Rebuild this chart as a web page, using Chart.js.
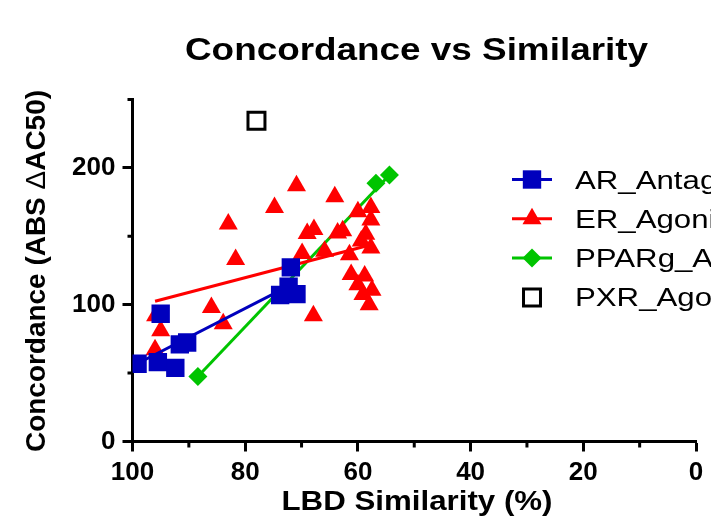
<!DOCTYPE html>
<html>
<head>
<meta charset="utf-8">
<script src="https://cdn.jsdelivr.net/npm/chart.js@4.4.1/dist/chart.umd.min.js"></script>
<style>
  html, body { margin: 0; padding: 0; background: #fff; }
  #wrap { width: 711px; height: 517px; position: relative; }
</style>
</head>
<body>
<div id="wrap"><canvas id="chart"></canvas></div>
<script>
// AR_Antagonist
const arX = [99.1, 95.5, 92.4, 91.6, 90.3, 95.0, 71.9, 72.3, 73.8, 70.9];
const arY = [56.8, 58.0, 53.8, 71.0, 72.4, 93.4, 127.3, 113.2, 107.1, 107.7];
// ER_Agonist
const erX = [96.0, 95.0, 95.9, 86.0, 83.9, 83.0, 81.7, 74.8, 70.9, 69.9, 69.0, 67.8, 67.9, 65.9, 64.1,
             63.6, 62.7, 61.5, 61.2, 60.0, 60.0, 59.4, 59.1, 58.8, 58.6, 58.0, 57.7, 57.7, 57.7, 57.5];
const erY = [67, 81, 92, 98, 86, 159, 133, 171, 187, 137.5, 152, 155, 92, 139, 179,
             152.5, 154, 136.5, 122, 168, 114.5, 146.5, 107.5, 121, 151.5, 100, 162, 171, 141.5, 110.5];
// PPARg_Agonist
const ppX = [88.4, 56.8, 54.4];
const ppY = [47.5, 188.7, 194.8];
// PXR_Agonist
const pxX = [78.0];
const pxY = [234.5];

// fitted lines, end points
const arFitX = [99.1, 70.9];
const arFitY = [57.0, 116.5];
const erFitX = [96.0, 57.5];
const erFitY = [102.5, 144.0];
const ppFitX = [88.4, 54.4];
const ppFitY = [47.5, 194.8];

const seriesNames = ['AR_Antagonist', 'ER_Agonist', 'PPARg_Agonist', 'PXR_Agonist'];
const xTickLabels = [100, 80, 60, 40, 20, 0];
const yTickLabels = [0, 100, 200];

const BLUE = '#0000bd';
const RED = '#ff0000';
const GREEN = '#00c400';
const FONT = '"Liberation Sans", Arial, sans-serif';

const pts = (xs, ys) => xs.map((x, i) => ({ x, y: ys[i] }));

const markers = [
    { pointStyle: 'rect', radius: 13, color: BLUE, line: true },
    { pointStyle: 'triangle', radius: 11, color: RED, line: true },
    { pointStyle: 'rectRot', radius: 9.5, color: GREEN, line: true },
    { pointStyle: 'rect', radius: 12, color: '#000', line: false, hollow: true }
];

function pointSet(label, xs, ys, m, order) {
    return {
        label,
        data: pts(xs, ys),
        pointStyle: m.pointStyle,
        pointRadius: m.radius,
        pointBackgroundColor: m.hollow ? '#fff' : m.color,
        pointBorderColor: m.color,
        pointBorderWidth: m.hollow ? 3 : 0,
        showLine: false,
        order
    };
}

function fitSet(xs, ys, color, order) {
    return {
        label: 'fit',
        data: pts(xs, ys),
        showLine: true,
        borderColor: color,
        borderWidth: 3,
        pointRadius: 0,
        order
    };
}

// stretched text, drawn in pieces [text, font] (the figure's lettering is wider than the stock fonts)
function stretchParts(ctx, parts, x, y, width, align) {
    let total = 0;
    const widths = parts.map(([t, f]) => { ctx.font = f; const w = ctx.measureText(t).width; total += w; return w; });
    const s = width / total;
    let cx = align === 'center' ? -total / 2 : 0;
    ctx.save();
    ctx.translate(x, y);
    ctx.scale(s, 1);
    ctx.textAlign = 'left';
    parts.forEach(([t, f], i) => {
        ctx.font = f;
        ctx.fillText(t, cx, 0);
        cx += widths[i];
    });
    ctx.restore();
}

const figurePlugin = {
    id: 'figureText',
    afterDraw(chart) {
        const ctx = chart.ctx;
        const xs = chart.scales.x, ys = chart.scales.y;
        ctx.save();
        ctx.fillStyle = '#000';
        ctx.strokeStyle = '#000';
        ctx.textBaseline = 'alphabetic';

        // minor ticks
        ctx.lineWidth = 3;
        ctx.beginPath();
        for (let v = 10; v < 100; v += 20) {
            const px = xs.getPixelForValue(v);
            ctx.moveTo(px, xs.top);
            ctx.lineTo(px, xs.top + 6);
        }
        for (let v = 50; v <= 250; v += 100) {
            const py = ys.getPixelForValue(v);
            ctx.moveTo(ys.right, py);
            ctx.lineTo(ys.right - 5, py);
        }
        ctx.stroke();

        const bold31 = `bold 31px ${FONT}`;
        const bold28 = `bold 28px ${FONT}`;

        // title
        stretchParts(ctx, [['Concordance vs Similarity', bold31]], 416.5, 60, 463, 'center');

        // x axis title
        stretchParts(ctx, [['LBD Similarity (%)', bold28]], 417, 510, 271, 'center');

        // y axis title
        ctx.save();
        ctx.translate(45, 271);
        ctx.rotate(-Math.PI / 2);
        stretchParts(ctx, [
            ['Concordance (ABS ', bold28],
            ['\u0394', `28px ${FONT}`],
            ['AC50)', bold28]
        ], 0, 0, 362, 'center');
        ctx.restore();

        // legend
        markers.forEach((m, i) => {
            const y = 179.5 + 39.3 * i;
            if (m.line) {
                ctx.strokeStyle = m.color;
                ctx.lineWidth = 3;
                ctx.beginPath();
                ctx.moveTo(512, y);
                ctx.lineTo(552, y);
                ctx.stroke();
            }
            ctx.fillStyle = m.hollow ? '#fff' : m.color;
            ctx.strokeStyle = m.color;
            ctx.lineWidth = m.hollow ? 3 : 0;
            Chart.helpers.drawPoint(ctx, {
                pointStyle: m.pointStyle,
                radius: m.radius,
                rotation: 0,
                borderWidth: m.hollow ? 3 : 0
            }, 532, y);
            ctx.fillStyle = '#000';
            const f = `26px ${FONT}`;
            ctx.font = f;
            const w = ctx.measureText(seriesNames[i]).width * 1.2;
            stretchParts(ctx, [[seriesNames[i], f]], 575, y + 9, w, 'left');
        });
        ctx.restore();
    }
};

new Chart(document.getElementById('chart'), {
    type: 'scatter',
    data: {
        datasets: [
            pointSet(seriesNames[0], arX, arY, markers[0], 1),
            fitSet(arFitX, arFitY, BLUE, 2),
            pointSet(seriesNames[1], erX, erY, markers[1], 3),
            fitSet(erFitX, erFitY, RED, 4),
            pointSet(seriesNames[2], ppX, ppY, markers[2], 5),
            fitSet(ppFitX, ppFitY, GREEN, 6),
            pointSet(seriesNames[3], pxX, pxY, markers[3], 7)
        ]
    },
    options: {
        responsive: true,
        maintainAspectRatio: false,
        animation: false,
        layout: { padding: { left: 0, right: 8, top: 99.5, bottom: 0 } },
        plugins: {
            legend: { display: false },
            tooltip: { enabled: false },
            title: { display: false }
        },
        scales: {
            x: {
                type: 'linear',
                reverse: true,
                min: 0,
                max: 100,
                afterFit: s => { s.height = 75.5; },
                border: { display: true, color: '#000', width: 3 },
                grid: {
                    drawOnChartArea: false,
                    tickLength: 10,
                    tickWidth: 3,
                    tickColor: c => xTickLabels.includes(c.tick && c.tick.value) ? '#000' : 'rgba(0,0,0,0)'
                },
                ticks: {
                    stepSize: 10,
                    autoSkip: false,
                    maxRotation: 0,
                    padding: 6,
                    color: '#000',
                    font: { family: FONT, size: 26, weight: 'bold' },
                    callback: v => xTickLabels.includes(v) ? String(v) : ''
                }
            },
            y: {
                min: 0,
                max: 250,
                afterFit: s => { s.width = 132.5; },
                border: { display: true, color: '#000', width: 3 },
                grid: {
                    drawOnChartArea: false,
                    tickLength: 10,
                    tickWidth: 3,
                    tickColor: c => yTickLabels.includes(c.tick && c.tick.value) ? '#000' : 'rgba(0,0,0,0)'
                },
                ticks: {
                    stepSize: 50,
                    autoSkip: false,
                    padding: 7,
                    color: '#000',
                    font: { family: FONT, size: 26, weight: 'bold' },
                    callback: v => yTickLabels.includes(v) ? String(v) : ''
                }
            }
        }
    },
    plugins: [figurePlugin]
});
</script>
</body>
</html>
